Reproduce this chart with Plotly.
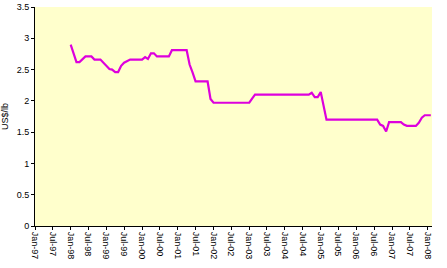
import plotly.graph_objects as go
import pandas as pd

# Monthly price (US$/lb), breakpoints
dates = ["1998-01-01", "1998-03-01", "1998-04-01", "1998-06-01", "1998-08-01",
         "1998-09-01", "1998-11-01", "1999-02-01", "1999-03-01", "1999-04-01",
         "1999-05-01", "1999-06-01", "1999-07-01", "1999-09-01", "2000-01-01",
         "2000-02-01", "2000-03-01", "2000-04-01", "2000-05-01", "2000-06-01",
         "2000-10-01", "2000-11-01", "2001-04-01", "2001-05-01", "2001-06-01",
         "2001-07-01", "2001-11-01", "2001-12-01", "2002-01-01", "2003-01-01",
         "2003-02-01", "2003-03-01", "2004-09-01", "2004-10-01", "2004-11-01",
         "2004-12-01", "2005-01-01", "2005-02-01", "2005-03-01", "2006-08-01",
         "2006-09-01", "2006-10-01", "2006-11-01", "2006-12-01", "2007-04-01",
         "2007-05-01", "2007-06-01", "2007-09-01", "2007-10-01", "2007-11-01",
         "2007-12-01", "2008-02-01"]
prices = [2.90, 2.62, 2.62, 2.71, 2.71,
          2.66, 2.66, 2.51, 2.50, 2.46,
          2.46, 2.56, 2.61, 2.66, 2.66,
          2.70, 2.67, 2.76, 2.76, 2.71,
          2.71, 2.81, 2.81, 2.58, 2.45,
          2.31, 2.31, 2.03, 1.97, 1.97,
          2.04, 2.10, 2.10, 2.13, 2.06,
          2.06, 2.14, 1.90, 1.70, 1.70,
          1.62, 1.60, 1.51, 1.66, 1.66,
          1.62, 1.60, 1.60, 1.65, 1.73,
          1.77, 1.77]

tick_dates = pd.date_range("1997-01-01", "2008-01-01", freq="6MS")
tick_labels = [d.strftime("%b-%y") for d in tick_dates]
y_ticks = [0, 0.5, 1, 1.5, 2, 2.5, 3, 3.5]
y_labels = ["0", "0.5", "1", "1.5", "2", "2.5", "3", "3.5"]

fig = go.Figure()
fig.add_trace(go.Scatter(
    x=pd.to_datetime(dates), y=prices, mode="lines",
    line=dict(color="#DD00DD", width=2.2), hoverinfo="skip"))

fig.update_layout(
    width=447, height=268,
    margin=dict(l=35, r=15, t=7, b=42),
    paper_bgcolor="white", plot_bgcolor="#FFFFCC",
    showlegend=False,
    font=dict(family="Liberation Sans, Arial, sans-serif", size=9, color="#000000"),
)
fig.update_xaxes(
    range=[pd.Timestamp("1997-01-01"), pd.Timestamp("2008-02-13")],
    tickmode="array", tickvals=tick_dates, ticktext=tick_labels,
    tickangle=90, ticks="outside", ticklen=3, tickcolor="black",
    showline=True, linecolor="black", linewidth=1, showgrid=False,
    zeroline=False, tickfont=dict(size=9), automargin=False,
)
fig.update_yaxes(
    range=[0, 3.5], tickmode="array", tickvals=y_ticks, ticktext=y_labels,
    ticks="outside", ticklen=3, tickcolor="black",
    showline=True, linecolor="black", linewidth=1, showgrid=False,
    zeroline=False, tickfont=dict(size=9), automargin=False,
    title=dict(text="US$/lb", font=dict(size=9), standoff=6),
)

fig.write_html("out.html")
